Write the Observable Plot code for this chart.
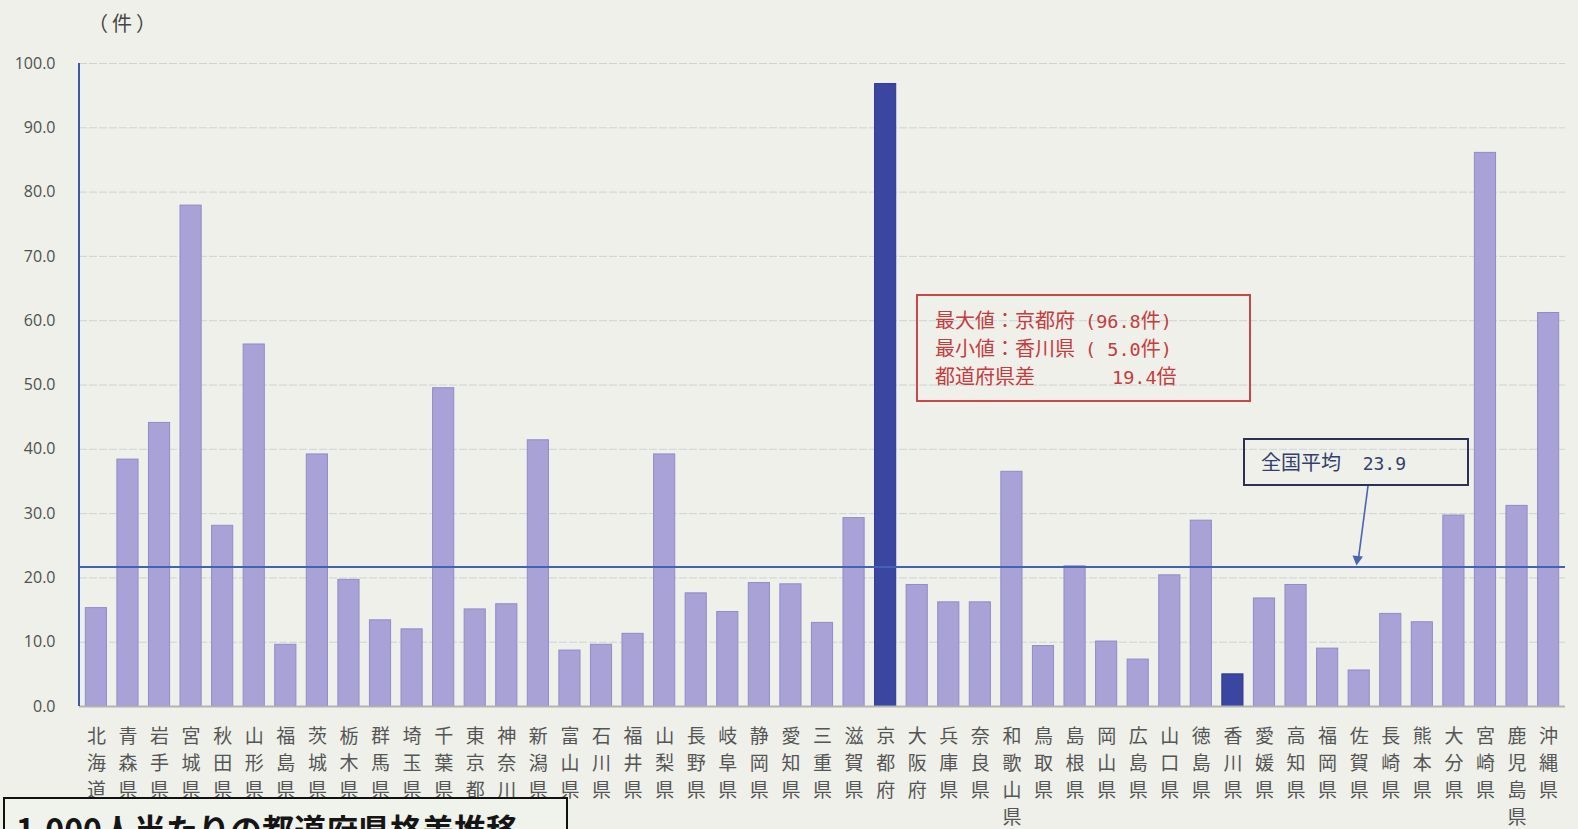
<!DOCTYPE html>
<html>
<head>
<meta charset="utf-8">
<script src="https://cdn.jsdelivr.net/npm/d3@7"></script>
<script src="https://cdn.jsdelivr.net/npm/@observablehq/plot@0.6"></script>
<style>
  html, body { margin: 0; padding: 0; }
  body { background: #eef0e9; width: 1578px; height: 829px; overflow: hidden; position: relative; font-family: "Noto Sans CJK JP", sans-serif; }
  #chart { position: absolute; left: 0; top: 0; }
  .ov { position: absolute; box-sizing: border-box; }
  #unit { left: 88px; top: 12px; font-size: 20px; line-height: 22px; color: #444; letter-spacing: 4px; }
  #redbox { left: 916px; top: 294px; width: 335px; height: 108px; border: 2px solid #c8484a; padding: 10px 0 0 17px; color: #c43c3e; }
  #redbox .ln { height: 28px; line-height: 28px; white-space: pre; }
  .j { font-family: "Noto Sans CJK JP", sans-serif; font-size: 20px; }
  .a { font-family: "DejaVu Sans Mono", monospace; font-size: 18.5px; }
  .lc { display: inline-block; width: 150px; }
  #avgbox { left: 1243px; top: 438px; width: 226px; height: 48px; border: 2px solid #2b3154; color: #323e6c; padding: 0 0 0 16px; line-height: 44px; white-space: pre; }
  #avgbox .a { font-size: 18px; }
  #titlebox { left: 3px; top: 797px; width: 565px; height: 80px; border: 2px solid #111; background: #f0f2ec; padding: 12px 0 0 11px; }
  #titlebox div { font-family: "Noto Sans CJK JP", sans-serif; font-weight: 700; font-size: 32px; line-height: 34px; color: #151515; white-space: nowrap; }
  #arrow { left: 0; top: 0; pointer-events: none; }
</style>
</head>
<body>
<div id="chart"></div>

<script>
// ---- data ----
const prefectures = ["北海道","青森県","岩手県","宮城県","秋田県","山形県","福島県","茨城県","栃木県","群馬県","埼玉県","千葉県","東京都","神奈川県","新潟県","富山県","石川県","福井県","山梨県","長野県","岐阜県","静岡県","愛知県","三重県","滋賀県","京都府","大阪府","兵庫県","奈良県","和歌山県","鳥取県","島根県","岡山県","広島県","山口県","徳島県","香川県","愛媛県","高知県","福岡県","佐賀県","長崎県","熊本県","大分県","宮崎県","鹿児島県","沖縄県"];
const values = [15.3,38.4,44.1,77.9,28.1,56.3,9.6,39.2,19.7,13.4,12.0,49.5,15.1,15.9,41.4,8.7,9.6,11.3,39.2,17.6,14.7,19.2,19.0,13.0,29.3,96.8,18.9,16.2,16.2,36.5,9.4,21.8,10.1,7.3,20.4,28.9,5.0,16.8,18.9,9.0,5.6,14.4,13.1,29.7,86.1,31.2,61.2];
const highlighted = ["京都府","香川県"];
const yTicks = [0,10,20,30,40,50,60,70,80,90,100];
const yUnit = "（件）";
const nationalAverageLabel = "23.9";
const averageLineLevel = 21.7;   // level at which the average line is drawn in the source
const maxLabel = ["最大値：京都府", "(96.8", "件", ")"];
const minLabel = ["最小値：香川県", "( 5.0", "件", ")"];
const ratioLabel = ["都道府県差", "19.4", "倍"];
const chartTitle = "1,000人当たりの都道府県格差推移";

const data = prefectures.map((p, i) => ({pref: p, value: values[i]}));
const normal = data.filter(d => !highlighted.includes(d.pref));
const hi = data.filter(d => highlighted.includes(d.pref));

// y-axis vertical line (drawn through the y scale)
function yAxisLine(index, scales, values, dims) {
  const ns = "http://www.w3.org/2000/svg";
  const l = document.createElementNS(ns, "line");
  l.setAttribute("x1", dims.marginLeft);
  l.setAttribute("x2", dims.marginLeft);
  l.setAttribute("y1", scales.y(0));
  l.setAttribute("y2", scales.y(100));
  l.setAttribute("stroke", "#3d5aa8");
  l.setAttribute("stroke-width", 2);
  return l;
}

const chart = Plot.plot({
  width: 1578,
  height: 829,
  marginTop: 63,
  marginBottom: 123,
  marginLeft: 79,
  marginRight: 13,
  style: {background: "transparent", overflow: "visible"},
  x: {domain: prefectures, padding: 0.33, paddingOuter: 0.2, round: false},
  y: {domain: [0, 100]},
  marks: [
    Plot.gridY(yTicks.filter(d => d > 0), {stroke: "#cdd4d6", strokeOpacity: 1, strokeDasharray: "8,2"}),
    Plot.barY(normal, {x: "pref", y: "value", fill: "#a8a2d6", stroke: "#918bc9", strokeWidth: 1}),
    Plot.barY(hi, {x: "pref", y: "value", fill: "#3a469f", stroke: "#2e3990", strokeWidth: 1}),
    Plot.ruleY([0], {stroke: "#b1b4b1", strokeWidth: 2}),
    Plot.ruleY([averageLineLevel], {stroke: "#4562b0", strokeWidth: 2}),
    yAxisLine,
    Plot.axisY({ticks: yTicks, tickSize: 0, tickPadding: 24, tickFormat: d3.format(".1f"), fontSize: 16, fill: "#505050", fontFamily: "Open Sans", label: null}),
    Plot.axisX({tickSize: 0, tickPadding: 17, tickFormat: d => [...d].join("\n"), fontSize: 19, lineHeight: 1.43, fill: "#555", fontFamily: "Noto Sans CJK JP", label: null})
  ]
});
document.getElementById("chart").append(chart);

// ---- annotations ----
function el(tag, attrs, html) {
  const e = document.createElement(tag);
  Object.assign(e, attrs);
  if (html !== undefined) e.innerHTML = html;
  document.body.append(e);
  return e;
}
el("div", {id: "unit", className: "ov"}, yUnit);
el("div", {id: "redbox", className: "ov"},
  `<div class="ln"><span class="lc"><span class="j">${maxLabel[0]}</span></span><span class="a">${maxLabel[1]}</span><span class="j">${maxLabel[2]}</span><span class="a">${maxLabel[3]}</span></div>` +
  `<div class="ln"><span class="lc"><span class="j">${minLabel[0]}</span></span><span class="a">${minLabel[1]}</span><span class="j">${minLabel[2]}</span><span class="a">${minLabel[3]}</span></div>` +
  `<div class="ln"><span class="lc"><span class="j">${ratioLabel[0]}</span></span><span class="a" style="padding-left:27px">${ratioLabel[1]}</span><span class="j">${ratioLabel[2]}</span></div>`);
el("div", {id: "avgbox", className: "ov"}, `<span class="j">全国平均</span><span class="a">  ${nationalAverageLabel}</span>`);
el("div", {id: "titlebox", className: "ov"}, `<div>${chartTitle}</div>`);

// arrow from the average box to the average line
const ns = "http://www.w3.org/2000/svg";
const svg = document.createElementNS(ns, "svg");
svg.setAttribute("width", 1578); svg.setAttribute("height", 829);
svg.setAttribute("class", "ov"); svg.id = "arrow";
svg.style.position = "absolute";
const yLine = 63 + (100 - averageLineLevel) / 100 * (829 - 63 - 123);
svg.innerHTML = `<line x1="1368" y1="486" x2="1358.5" y2="${yLine - 8}" stroke="#4a64b2" stroke-width="1.6"/>
<path d="M1352.5,${yLine - 11} L1363,${yLine - 10} L1356.5,${yLine - 1} Z" fill="#4a64b2"/>`;
document.body.append(svg);
</script>
</body>
</html>
